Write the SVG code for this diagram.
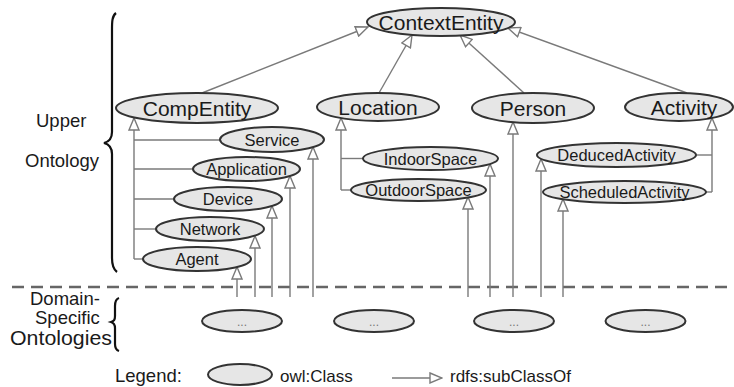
<svg xmlns="http://www.w3.org/2000/svg" width="734" height="387" viewBox="0 0 734 387">
<style>
.cls{fill:#e6e6e6;stroke:#333;stroke-width:2}
.big{font-family:"Liberation Sans",Arial,sans-serif;font-size:21px;fill:#1a1a1a;text-anchor:middle}
.sub{font-family:"Liberation Sans",Arial,sans-serif;font-size:16.5px;fill:#1a1a1a;text-anchor:middle}
.lab{font-family:"Liberation Sans",Arial,sans-serif;font-size:18.5px;fill:#1a1a1a}
.dots{font-family:"Liberation Sans",Arial,sans-serif;font-size:12px;fill:#777;text-anchor:middle}
.con{fill:none;stroke:#7a7a7a;stroke-width:1.4}
.arr{fill:none;stroke:#7a7a7a;stroke-width:1.4;marker-end:url(#tri)}
.brace{fill:none;stroke:#111;stroke-width:2.2}
</style>
<defs>
<marker id="tri" markerUnits="userSpaceOnUse" markerWidth="14" markerHeight="12" refX="13" refY="6" orient="auto">
<path d="M1,1 L13,6 L1,11 Z" fill="#fff" stroke="#7a7a7a" stroke-width="1.4"/>
</marker>
</defs>
<rect width="734" height="387" fill="#fff"/>

<g id="labels">
<text class="lab" x="36" y="127">Upper</text>
<text class="lab" x="25" y="167">Ontology</text>
<path class="brace" d="M116,13 C112,16 112,22 112,30 L112,132 C112,139 108,142 104,143 C108,144 112,147 112,154 L112,258 C112,265 113,269 117,272"/>
<text class="lab" x="30" y="305">Domain-</text>
<text class="lab" x="35" y="324">Specific</text>
<text class="lab" x="10" y="345" textLength="102" lengthAdjust="spacingAndGlyphs" style="font-size:19.5px">Ontologies</text>
<path class="brace" d="M119,298 C116,299 115,302 115,306 L115,316 C115,320 114,321 111,322 C114,323 115,325 115,328 L115,344 C115,348 116,350 119,351" stroke-width="1.6"/>
</g>

<line x1="12" y1="287" x2="734" y2="287" stroke="#666" stroke-width="2.5" stroke-dasharray="12 7"/>

<g id="connectors">
<line class="arr" x1="202" y1="93" x2="368" y2="27"/>
<line class="arr" x1="379" y1="93" x2="412" y2="35"/>
<line class="arr" x1="524" y1="93" x2="460" y2="35"/>
<line class="arr" x1="687" y1="93" x2="508" y2="28"/>
<line class="arr" x1="134" y1="259" x2="134" y2="118"/>
<line class="con" x1="134" y1="259" x2="143" y2="259"/>
<line class="con" x1="134" y1="229" x2="156" y2="229"/>
<line class="con" x1="134" y1="199" x2="174" y2="199"/>
<line class="con" x1="134" y1="169" x2="193" y2="169"/>
<line class="con" x1="134" y1="140" x2="220" y2="140"/>
<line class="arr" x1="313" y1="297" x2="313" y2="147"/>
<line class="arr" x1="290" y1="297" x2="290" y2="176"/>
<line class="arr" x1="272" y1="297" x2="272" y2="206"/>
<line class="arr" x1="255" y1="297" x2="255" y2="236"/>
<line class="arr" x1="237" y1="297" x2="237" y2="267"/>
<line class="arr" x1="341" y1="190" x2="341" y2="118"/>
<line class="con" x1="341" y1="158.5" x2="363" y2="158.5"/>
<line class="con" x1="341" y1="190" x2="351" y2="190"/>
<line class="arr" x1="490" y1="297" x2="490" y2="164"/>
<line class="arr" x1="468" y1="297" x2="468" y2="197"/>
<line class="arr" x1="513" y1="297" x2="513" y2="122"/>
<line class="arr" x1="712" y1="192" x2="712" y2="118"/>
<line class="con" x1="696" y1="155" x2="712" y2="155"/>
<line class="con" x1="706" y1="192" x2="712" y2="192"/>
<line class="arr" x1="541" y1="297" x2="541" y2="159"/>
<line class="arr" x1="563" y1="297" x2="563" y2="199"/>
</g>

<g id="ContextEntity"><ellipse class="cls" cx="441" cy="22" rx="74" ry="14"/><text class="big" x="441" y="29.5">ContextEntity</text></g>
<g id="CompEntity"><ellipse class="cls" cx="197" cy="108" rx="81" ry="15"/><text class="big" x="197" y="115.5">CompEntity</text></g>
<g id="Location"><ellipse class="cls" cx="378" cy="107" rx="61" ry="14"/><text class="big" x="378" y="114.5">Location</text></g>
<g id="Person"><ellipse class="cls" cx="533" cy="108" rx="61" ry="15"/><text class="big" x="533" y="115.5">Person</text></g>
<g id="Activity"><ellipse class="cls" cx="679" cy="107" rx="54" ry="14"/><text class="big" x="684" y="114.5">Activity</text></g>

<g id="Service"><ellipse class="cls" cx="272" cy="139.5" rx="52" ry="12.5"/><text class="sub" x="272" y="145.5">Service</text></g>
<g id="Application"><ellipse class="cls" cx="246.5" cy="169" rx="53.5" ry="12"/><text class="sub" x="246.5" y="175">Application</text></g>
<g id="Device"><ellipse class="cls" cx="228" cy="199" rx="54" ry="12"/><text class="sub" x="228" y="205">Device</text></g>
<g id="Network"><ellipse class="cls" cx="210" cy="229" rx="54" ry="12"/><text class="sub" x="210" y="235">Network</text></g>
<g id="Agent"><ellipse class="cls" cx="197" cy="259" rx="54" ry="12"/><text class="sub" x="197" y="265">Agent</text></g>
<g id="IndoorSpace"><ellipse class="cls" cx="430.5" cy="158.5" rx="67.5" ry="11.5"/><text class="sub" x="430.5" y="164.5">IndoorSpace</text></g>
<g id="OutdoorSpace"><ellipse class="cls" cx="418.5" cy="190" rx="67.5" ry="11"/><text class="sub" x="418.5" y="196">OutdoorSpace</text></g>
<g id="DeducedActivity"><ellipse class="cls" cx="616.5" cy="155" rx="79.5" ry="12"/><text class="sub" x="616.5" y="161">DeducedActivity</text></g>
<g id="ScheduledActivity"><ellipse class="cls" cx="624.5" cy="192" rx="81.5" ry="11"/><text class="sub" x="624.5" y="198">ScheduledActivity</text></g>

<g id="Domain1"><ellipse class="cls" cx="242" cy="321" rx="40" ry="11"/><text class="dots" x="242" y="326">...</text></g>
<g id="Domain2"><ellipse class="cls" cx="374" cy="321" rx="40" ry="11"/><text class="dots" x="374" y="326">...</text></g>
<g id="Domain3"><ellipse class="cls" cx="514" cy="321" rx="40" ry="11"/><text class="dots" x="514" y="326">...</text></g>
<g id="Domain4"><ellipse class="cls" cx="645.5" cy="321" rx="40" ry="11"/><text class="dots" x="645.5" y="326">...</text></g>

<g id="legend">
<text class="lab" x="115" y="382">Legend:</text>
<ellipse class="cls" cx="240" cy="374.5" rx="32" ry="10.5"/>
<text class="lab" x="280" y="382" style="font-size:17px">owl:Class</text>
<line class="arr" x1="392" y1="378" x2="442" y2="378"/>
<text class="lab" x="450" y="382" style="font-size:17px">rdfs:subClassOf</text>
</g>
</svg>
